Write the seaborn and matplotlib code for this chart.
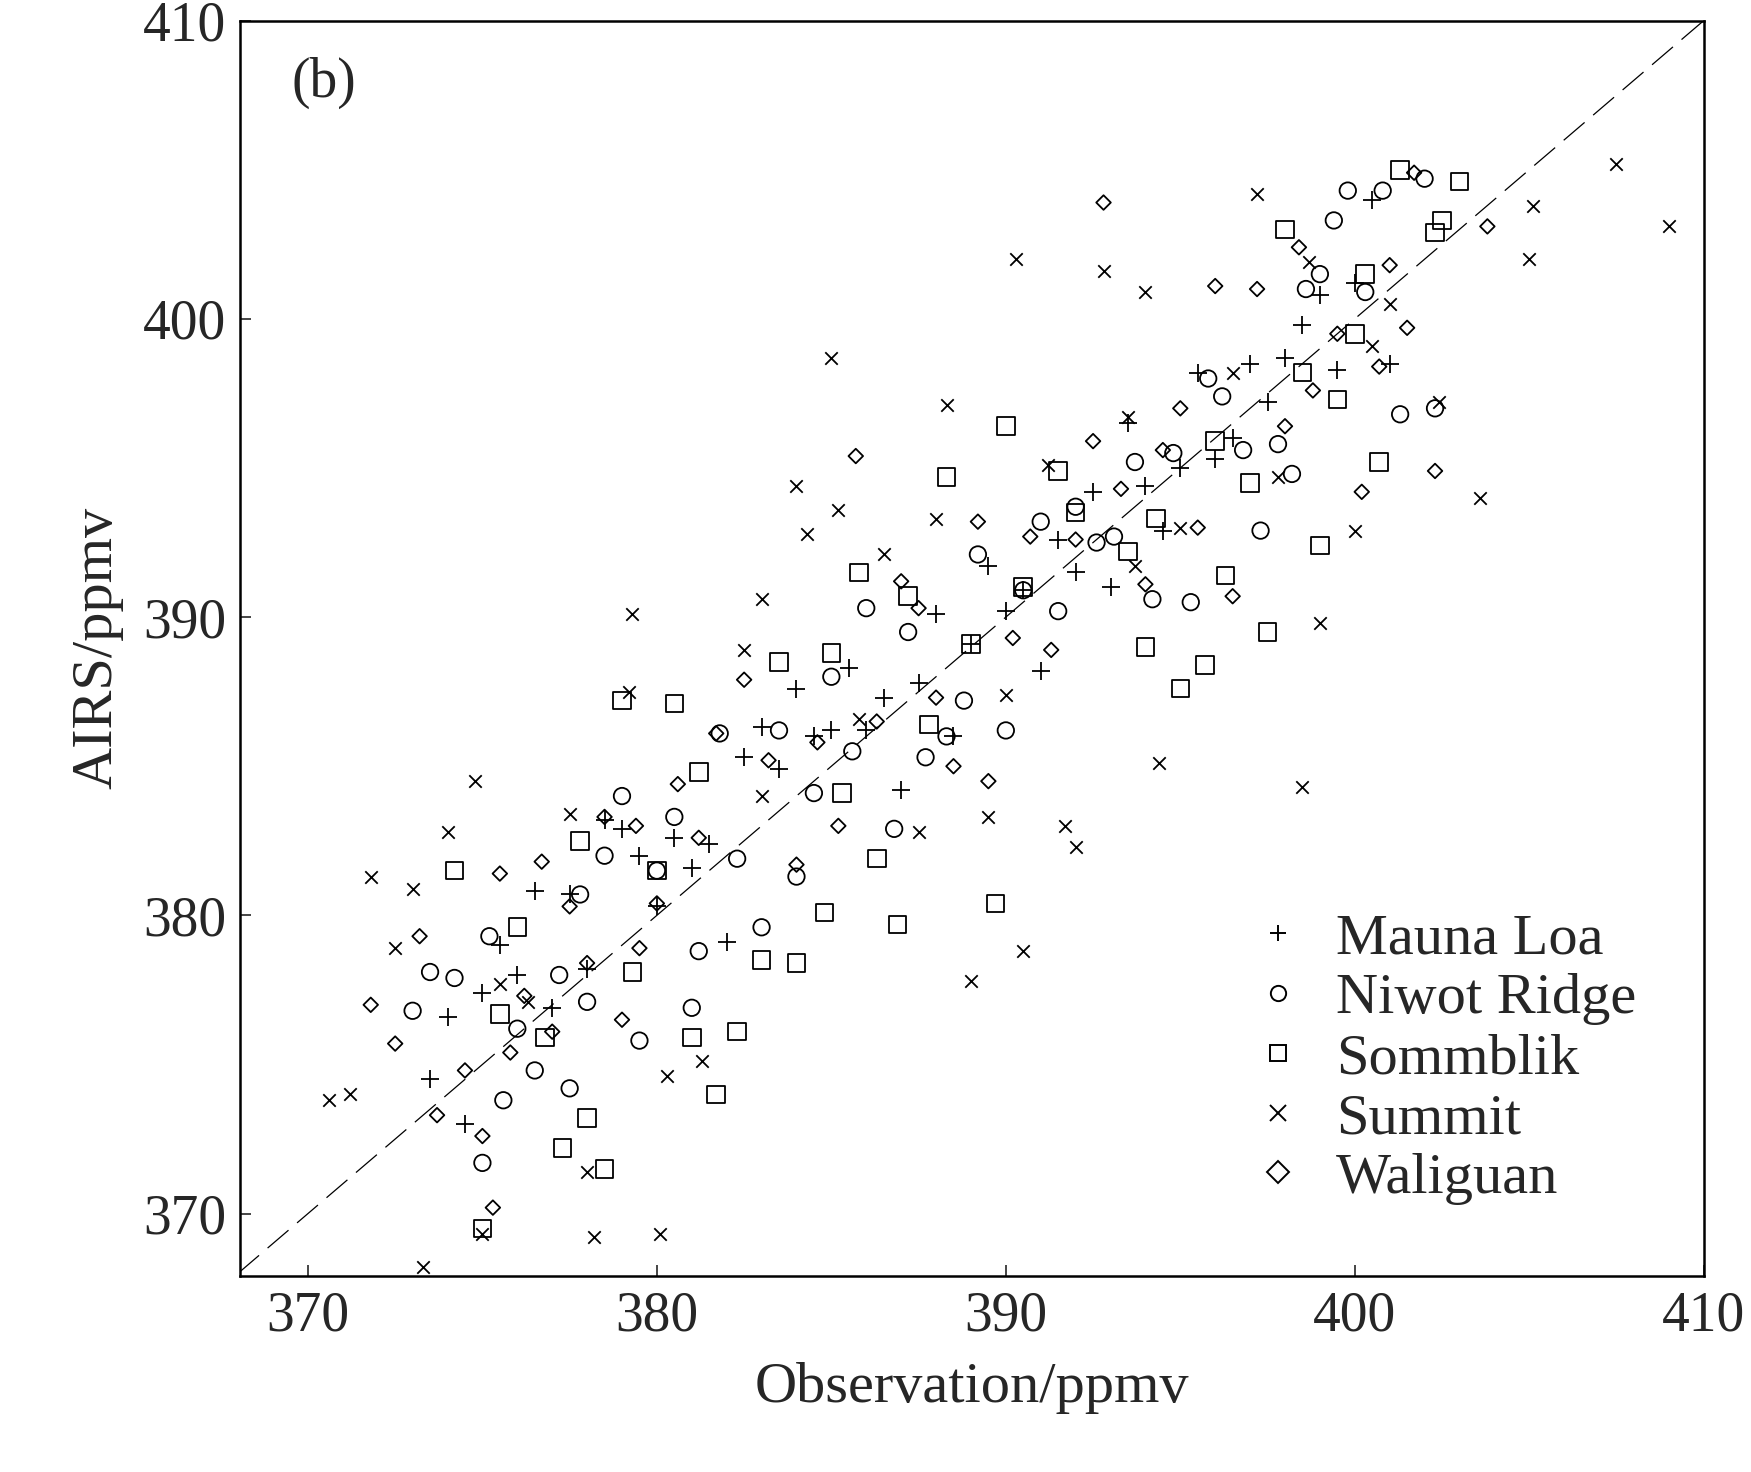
import matplotlib
matplotlib.use("Agg")
import matplotlib.pyplot as plt
from matplotlib.lines import Line2D
import seaborn as sns
import pandas as pd

x1 = [373.5,374,374.5,375,375.5,376,376.5,377,377.5,378,378.5,379,379.5,380,380.5,381,381.5,382,382.5,383,383.5,384,384.5,385,385.5,386,386.5,387,387.5,388,388.5,389,389.5,390,390.5,391,391.5,392,392.5,393,393.5,394,394.5,395,395.5,396,396.5,397,397.5,398,398.5,399,399.5,400,400.5,401]
y1 = [374.5,376.6,373,377.4,379,378,380.8,376.9,380.7,378.2,383.2,382.9,382,380.3,382.6,381.6,382.4,379.1,385.3,386.3,384.9,387.6,386,386.2,388.3,386.2,387.3,384.2,387.8,390.1,386,389.1,391.7,390.2,390.9,388.2,392.6,391.5,394.2,391,396.5,394.4,392.9,395,398.2,395.3,396,398.5,397.2,398.7,399.8,400.8,398.3,401.2,404,398.5]
x2 = [373,373.5,374.2,375,375.2,375.6,376,376.5,377.2,377.8,378,378.5,379,379.5,380,380.5,381,381.2,381.8,382.3,383,383.5,384,384.5,385,385.6,386,386.8,387.2,387.7,388.3,388.8,389.2,390,390.5,391,391.5,392,392.6,393.1,393.7,394.2,394.8,395.3,395.8,396.2,396.8,397.3,397.8,398.2,398.6,399,399.4,399.8,400.3,400.8,401.3,402,402.3,377.5]
y2 = [376.8,378.1,377.9,371.7,379.3,373.8,376.2,374.8,378,380.7,377.1,382,384,375.8,381.5,383.3,376.9,378.8,386.1,381.9,379.6,386.2,381.3,384.1,388,385.5,390.3,382.9,389.5,385.3,386,387.2,392.1,386.2,390.9,393.2,390.2,393.7,392.5,392.7,395.2,390.6,395.5,390.5,398,397.4,395.6,392.9,395.8,394.8,401,401.5,403.3,404.3,400.9,404.3,396.8,404.7,397,374.2]
x3 = [374.2,375,375.5,376,376.8,377.3,377.8,378,378.5,379,379.3,380,380.5,381,381.2,381.7,382.3,383,383.5,384,384.8,385,385.3,385.8,386.3,386.9,387.2,387.8,388.3,389,389.7,390,390.5,391.5,392,393.5,394,394.3,395,395.7,396,396.3,397,397.5,398,398.5,399,399.5,400,400.3,400.7,401.3,402.5,403,402.3]
y3 = [381.5,369.5,376.7,379.6,375.9,372.2,382.5,373.2,371.5,387.2,378.1,381.5,387.1,375.9,384.8,374,376.1,378.5,388.5,378.4,380.1,388.8,384.1,391.5,381.9,379.7,390.7,386.4,394.7,389.1,380.4,396.4,391,394.9,393.5,392.2,389,393.3,387.6,388.4,395.9,391.4,394.5,389.5,403,398.2,392.4,397.3,399.5,401.5,395.2,405,403.3,404.6,402.9]
x4 = [370.6,371.2,371.8,372.5,373,373.3,374,374.8,375,375.5,376.3,377.5,378,378.2,379.2,379.3,380.1,380.3,381.3,382.5,383,384,384.3,385,385.2,385.8,387.5,388.3,389,389.5,390,390.3,390.5,391.2,391.7,392,392.8,393.5,394,394.4,395,396.5,397.2,397.8,398.5,398.7,399,400,400.5,401,402.4,403.6,405,405.1,407.5,409,383,386.5,388,393.7]
y4 = [373.8,374,381.3,378.9,380.9,368.2,382.8,384.5,369.3,377.7,377.1,383.4,371.4,369.2,387.5,390.1,369.3,374.6,375.1,388.9,390.6,394.4,392.8,398.7,393.6,386.6,382.8,397.1,377.8,383.3,387.4,402,378.8,395.1,383,382.3,401.6,396.7,400.9,385.1,393,398.2,404.2,394.7,384.3,401.9,389.8,392.9,399.1,400.5,397.2,394,402,403.8,405.2,403.1,384,392.1,393.3,391.7]
x5 = [371.8,372.5,373.2,373.7,374.5,375,375.3,375.5,375.8,376.2,376.7,377,377.5,378,378.5,379,379.4,380,380.6,381.2,381.7,382.5,383.2,384,384.6,385.2,385.7,386.3,387,387.5,388,388.5,389.2,389.5,390.2,390.7,391.3,392,392.5,392.8,393.3,394,394.5,395,395.5,396,396.5,397.2,398,398.4,398.8,399.5,400.2,400.7,401,401.5,402.3,403.8,401.7,379.5]
y5 = [377,375.7,379.3,373.3,374.8,372.6,370.2,381.4,375.4,377.3,381.8,376.1,380.3,378.4,383.3,376.5,383,380.4,384.4,382.6,386.1,387.9,385.2,381.7,385.8,383,395.4,386.5,391.2,390.3,387.3,385,393.2,384.5,389.3,392.7,388.9,392.6,395.9,403.9,394.3,391.1,395.6,397,393,401.1,390.7,401,396.4,402.4,397.6,399.5,394.2,398.4,401.8,399.7,394.9,403.1,404.9,378.9]

sites = ["Mauna Loa", "Niwot Ridge", "Sommblik", "Summit", "Waliguan"]
xs = [x1, x2, x3, x4, x5]
ys = [y1, y2, y3, y4, y5]
ticks = [370, 380, 390, 400, 410]

sns.set_theme(style="white")
plt.rcParams['font.family'] = ['Liberation Serif', 'DejaVu Serif']

fig = plt.figure(figsize=(17.51, 14.72), dpi=100)
ax = fig.add_axes([0.137, 0.133, 0.836, 0.853])

styles = {"Mauna Loa": ("+", 160, True), "Niwot Ridge": ("o", 140, False),
          "Sommblik": ("s", 160, False), "Summit": ("x", 80, True),
          "Waliguan": ("D", 55, False)}
for s, x, y in zip(sites, xs, ys):
    df = pd.DataFrame({"x": x, "y": y})
    m, sz, line = styles[s]
    if line:
        sns.scatterplot(data=df, x="x", y="y", marker=m, s=sz, color="black",
                        linewidth=1.3, ax=ax)
    else:
        sns.scatterplot(data=df, x="x", y="y", marker=m, s=sz, facecolor="none",
                        edgecolor="black", linewidth=1.3, ax=ax)

ax.plot([368, 410], [368, 410], color="black", lw=0.9, dashes=(22, 9))
ax.set_xlim(368.05, 410)
ax.set_ylim(367.9, 410)
ax.set_xticks(ticks)
ax.set_yticks(ticks)
ax.tick_params(direction="in", length=8, width=1.2, labelsize=40, pad=10,
               bottom=True, left=True)
for sp in ax.spines.values():
    sp.set_color("black"); sp.set_linewidth(1.8)
ax.set_xlabel("Observation/ppmv", fontsize=42, labelpad=14)
ax.set_ylabel("AIRS/ppmv", fontsize=42, labelpad=14)
ax.text(0.035, 0.95, "(b)", transform=ax.transAxes, fontsize=40, va="center")

handles = [Line2D([], [], linestyle="none", marker=styles[s][0], markersize=11,
                  markerfacecolor="none", markeredgecolor="black", markeredgewidth=1.4)
           for s in sites]
ax.legend(handles, sites, loc="lower right", frameon=False, fontsize=42,
          handlelength=1.0, handletextpad=0.5, labelspacing=0.12,
          bbox_to_anchor=(0.99, 0.015))
fig.savefig("out.png", dpi=100)
